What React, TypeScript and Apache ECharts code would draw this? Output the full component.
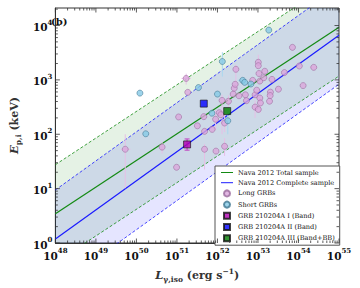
import React, { useEffect, useRef } from "react";
import * as echarts from "echarts";

const X_MIN = 1e48;
const X_MAX = 1e55;
const Y_MIN = 1;
const Y_MAX = 2.1e4;

const SERIF = "DejaVu Serif";

// Nava et al. 2012 fits: log10(Ep/keV) = norm + slope * (log10 L - 48), scatter band in dex
const fitNames = ["Nava 2012 Total sample", "Nava 2012 Complete sample"];
const fitLogNorm = [0.54, 0.075];
const fitSlope = [0.49, 0.535];
const fitScatter = [0.9, 0.9];
const fitColors = ["#138a13", "#1a1aff"];
const bandColors = ["rgba(0,128,0,0.1)", "rgba(0,0,255,0.1)"];

// Long GRBs
const longL = [
  5.3e49, 4.3e50, 9.8e50, 1.1e51, 1.69e51, 1.85e51, 3.2e51, 4.6e51, 4.8e51, 4.8e51,
  7.4e51, 9.2e51, 9.0e51, 1.11e52, 1.21e52, 1.3e52, 1.5e52, 1.5e52, 1.87e52, 2.45e52,
  2.6e52, 2.74e52, 2.85e52, 3.4e52, 4.9e52, 5.2e52, 7.4e52, 8.5e52, 9.3e52, 8.5e52,
  1.02e53, 1.02e53, 1.02e53, 1.06e53, 1.11e53, 1.11e53, 1.15e53, 1.39e53, 1.47e53, 1.93e53,
  2.03e53, 2.0e53, 2.22e53, 3.2e53, 4.5e53, 7.1e53, 1.05e54, 1.3e54, 2.38e54,
];
const longE = [
  53, 58, 24.7, 208, 1064, 590, 143, 211, 113, 53,
  123, 49, 189, 249, 229, 419, 161, 60, 405, 548,
  703, 830, 1566, 511, 532, 415, 980, 532, 647, 316,
  286, 2110, 1825, 1310, 951, 464, 377, 1096, 1442, 405,
  595, 515, 1021, 674, 1365, 3964, 1803, 786, 1701,
];
// [index, Elo, Ehi, Llo, Lhi]
const longErrBars = [
  [0, 10.2, 100, 4.1e49, 7.1e49],
  [1, 44, 72, 4.3e50, 4.3e50],
  [4, 820, 1300, 1.3e51, 2.2e51],
  [9, 22.5, 66, 4.8e51, 4.8e51],
  [12, 120, 280, 9.0e51, 9.0e51],
  [15, 100, 530, 1.3e52, 1.3e52],
  [16, 110, 230, 1.5e52, 1.5e52],
  [17, 40, 85, 1.5e52, 1.5e52],
  [18, 300, 520, 1.87e52, 1.87e52],
  [22, 790, 1900, 2.85e52, 2.85e52],
  [29, 200, 420, 8.5e52, 8.5e52],
  [31, 1700, 2900, 1.02e53, 1.02e53],
  [36, 250, 470, 1.15e53, 1.15e53],
  [48, 1701, 1701, 1.9e54, 2.9e54],
];

// Short GRBs
const shortL = [1.22e50, 1.7e50, 3.4e51, 1.32e52, 4.2e52, 4.7e52, 6.7e52, 1.0e52, 7.3e51, 1.8e52, 1.85e53];
const shortE = [571, 102, 723, 2180, 980, 901, 840, 548, 244, 177, 8230];
const shortErrBars = [
  [3, 1150, 3240, 1.32e52, 1.32e52],
  [9, 100, 250, 1.8e52, 1.8e52],
  [4, 980, 980, 3.2e52, 4.9e52],
];

// GRB 210204A
const grbNames = ["GRB 210204A I (Band)", "GRB 210204A II (Band)", "GRB 210204A III (Band+BB)"];
const grbL = [1.78e51, 4.6e51, 1.74e52];
const grbE = [65, 366, 267];
const grbElo = [51, 366, 267];
const grbEhi = [82, 366, 267];
const grbColors = ["#b000b0", "#0000ff", "#007a00"];

const fitE = (i: number, L: number, k: number) =>
  Math.pow(10, fitLogNorm[i] + fitSlope[i] * (Math.log10(L) - 48) + k * fitScatter[i]);

const supLabel = (v: number) => `{b|10}{s|${Math.round(Math.log10(v))}}`;

const LINE_ICON = "path://M0,0H24V2H0Z";
const SQUARE_ICON = "path://M0,0H10V10H0Z";

export default function App() {
  const ref = useRef<HTMLDivElement>(null);
  useEffect(() => {
    if (!ref.current) return;
    const chart = echarts.init(ref.current, null, { renderer: "svg" });

    // tick data: [x, y, major, axis(0=x,1=y)]
    const tickData: number[][] = [];
    for (let n = 48; n <= 55; n++) {
      tickData.push([Math.pow(10, n), Y_MIN, 1, 0]);
      if (n < 55) for (let k = 2; k <= 9; k++) tickData.push([k * Math.pow(10, n), Y_MIN, 0, 0]);
    }
    for (let n = 0; n <= 4; n++) {
      tickData.push([X_MIN, Math.pow(10, n), 1, 1]);
      for (let k = 2; k <= 9; k++) {
        const v = k * Math.pow(10, n);
        if (v < Y_MAX) tickData.push([X_MIN, v, 0, 1]);
      }
    }

    const errData: number[][] = [];
    longErrBars.forEach((b) => errData.push([longL[b[0]], longE[b[0]], b[1], b[2], b[3], b[4], 0, 0]));
    shortErrBars.forEach((b) => errData.push([shortL[b[0]], shortE[b[0]], b[1], b[2], b[3], b[4], 1, 0]));
    grbL.forEach((L, i) => {
      if (grbElo[i] !== grbEhi[i]) errData.push([L, grbE[i], grbElo[i], grbEhi[i], L, L, 2, 1]);
    });
    const errColors = ["#e6bfe6", "#a9d8ee", "#c040c0"];

    const lineData = (i: number, k: number) => [
      [X_MIN, fitE(i, X_MIN, k)],
      [X_MAX, fitE(i, X_MAX, k)],
    ];

    const series: any[] = [
      {
        type: "custom",
        name: "_bands",
        coordinateSystem: "cartesian2d",
        clip: true,
        z: 1,
        silent: true,
        data: [[X_MIN, Y_MIN], [X_MIN, Y_MIN]],
        encode: { x: 0, y: 1 },
        renderItem: (params: any, api: any) => {
          const i = params.dataIndex;
          const pts = [
            api.coord([X_MIN, fitE(i, X_MIN, -1)]),
            api.coord([X_MAX, fitE(i, X_MAX, -1)]),
            api.coord([X_MAX, fitE(i, X_MAX, 1)]),
            api.coord([X_MIN, fitE(i, X_MIN, 1)]),
          ];
          return { type: "polygon", shape: { points: pts }, style: { fill: bandColors[i] } };
        },
      },
    ];
    [0, 1].forEach((i) => {
      [-1, 1].forEach((k) => {
        series.push({
          type: "line",
          name: `_dash${i}${k}`,
          data: lineData(i, k),
          showSymbol: false,
          symbol: "none",
          z: 2,
          silent: true,
          lineStyle: { color: fitColors[i], width: 0.8, type: [3, 2] },
        });
      });
    });
    [0, 1].forEach((i) => {
      series.push({
        type: "line",
        name: fitNames[i],
        data: lineData(i, 0),
        showSymbol: false,
        symbol: "none",
        z: 3,
        silent: true,
        lineStyle: { color: fitColors[i], width: 1.2 },
        itemStyle: { color: fitColors[i] },
      });
    });
    series.push({
      type: "custom",
      name: "_err",
      coordinateSystem: "cartesian2d",
      clip: true,
      z: 4,
      silent: true,
      data: errData,
      encode: { x: 0, y: 1 },
      renderItem: (params: any, api: any) => {
        const L = api.value(0), E = api.value(1);
        const elo = api.value(2), ehi = api.value(3), llo = api.value(4), lhi = api.value(5);
        const kind = api.value(6), cap = api.value(7);
        const style = { stroke: errColors[kind], lineWidth: 1 };
        const children: any[] = [];
        if (elo !== ehi) {
          const a = api.coord([L, elo]);
          const b = api.coord([L, ehi]);
          children.push({ type: "line", shape: { x1: a[0], y1: a[1], x2: b[0], y2: b[1] }, style });
          if (cap) {
            children.push({ type: "line", shape: { x1: a[0] - 2.5, y1: a[1], x2: a[0] + 2.5, y2: a[1] }, style });
            children.push({ type: "line", shape: { x1: b[0] - 2.5, y1: b[1], x2: b[0] + 2.5, y2: b[1] }, style });
          }
        }
        if (llo !== lhi) {
          const a = api.coord([llo, E]);
          const b = api.coord([lhi, E]);
          children.push({ type: "line", shape: { x1: a[0], y1: a[1], x2: b[0], y2: b[1] }, style });
        }
        return { type: "group", children };
      },
    });
    series.push({
      type: "scatter",
      name: "Long GRBs",
      data: longL.map((L, i) => [L, longE[i]]),
      symbol: "circle",
      symbolSize: 6,
      z: 5,
      itemStyle: { color: "#dba6dc", borderColor: "#9a6a9c", borderWidth: 0.7 },
    });
    series.push({
      type: "scatter",
      name: "Short GRBs",
      data: shortL.map((L, i) => [L, shortE[i]]),
      symbol: "circle",
      symbolSize: 6,
      z: 5,
      itemStyle: { color: "#86c9e6", borderColor: "#3f7590", borderWidth: 0.7 },
    });
    grbNames.forEach((name, i) => {
      series.push({
        type: "scatter",
        name,
        data: [[grbL[i], grbE[i]]],
        symbol: "rect",
        symbolSize: 7,
        z: 6,
        itemStyle: { color: grbColors[i], borderColor: "#111", borderWidth: 0.8 },
      });
    });
    series.push({
      type: "custom",
      name: "_ticks",
      coordinateSystem: "cartesian2d",
      clip: false,
      z: 7,
      silent: true,
      data: tickData,
      encode: { x: 0, y: 1 },
      renderItem: (params: any, api: any) => {
        const v0 = api.value(0), v1 = api.value(1), major = api.value(2), axis = api.value(3);
        const len = major ? 4.5 : 2.5;
        const style = { stroke: "#333", lineWidth: 0.8 };
        if (axis === 0) {
          const b = api.coord([v0, Y_MIN]);
          const t = api.coord([v0, Y_MAX]);
          return {
            type: "group",
            children: [
              { type: "line", shape: { x1: b[0], y1: b[1], x2: b[0], y2: b[1] - len }, style },
              { type: "line", shape: { x1: t[0], y1: t[1], x2: t[0], y2: t[1] + len }, style },
            ],
          };
        }
        const l = api.coord([X_MIN, v1]);
        const r = api.coord([X_MAX, v1]);
        return {
          type: "group",
          children: [
            { type: "line", shape: { x1: l[0], y1: l[1], x2: l[0] + len, y2: l[1] }, style },
            { type: "line", shape: { x1: r[0], y1: r[1], x2: r[0] - len, y2: r[1] }, style },
          ],
        };
      },
    });

    const tickRich = {
      b: { fontFamily: SERIF, fontSize: 10.5, fontWeight: "bold", color: "#111", lineHeight: 14, verticalAlign: "bottom" },
      s: { fontFamily: SERIF, fontSize: 7, fontWeight: "bold", color: "#111", lineHeight: 8, verticalAlign: "top" },
    };

    chart.setOption({
      animation: false,
      grid: { left: 44, right: 21, top: 8, bottom: 40, show: true, borderColor: "#333", borderWidth: 1 },
      xAxis: {
        type: "log",
        logBase: 10,
        min: X_MIN,
        max: X_MAX,
        splitNumber: 7,
        axisLine: { show: true, lineStyle: { color: "#333" } },
        axisTick: { show: false },
        splitLine: { show: false },
        axisLabel: { formatter: supLabel, rich: tickRich, margin: 4 },
        name: "{i|L}{sub|γ,iso}{t| (erg s}{sup|−1}{t|)}",
        nameLocation: "middle",
        nameGap: 24,
        nameTextStyle: {
          rich: {
            i: { fontFamily: SERIF, fontSize: 11.5, fontStyle: "italic", fontWeight: "bold", lineHeight: 16, verticalAlign: "middle" },
            sub: { fontFamily: SERIF, fontSize: 7.5, fontWeight: "bold", lineHeight: 8, verticalAlign: "bottom" },
            t: { fontFamily: SERIF, fontSize: 11, fontWeight: "bold", lineHeight: 16, verticalAlign: "middle" },
            sup: { fontFamily: SERIF, fontSize: 7.5, fontWeight: "bold", lineHeight: 8, verticalAlign: "top" },
          },
        },
      },
      yAxis: {
        type: "log",
        logBase: 10,
        min: Y_MIN,
        max: Y_MAX,
        splitNumber: 5,
        axisLine: { show: true, lineStyle: { color: "#333" } },
        axisTick: { show: false },
        splitLine: { show: false },
        axisLabel: { formatter: supLabel, rich: tickRich, margin: 3, showMaxLabel: false },
        name: "{i|E}{sub|p,i}{t| (keV)}",
        nameLocation: "middle",
        nameGap: 24,
        nameRotate: 90,
        nameTextStyle: {
          rich: {
            i: { fontFamily: SERIF, fontSize: 11.5, fontStyle: "italic", fontWeight: "bold", lineHeight: 16, verticalAlign: "middle" },
            sub: { fontFamily: SERIF, fontSize: 7.5, fontWeight: "bold", lineHeight: 8, verticalAlign: "bottom" },
            t: { fontFamily: SERIF, fontSize: 11, fontWeight: "bold", lineHeight: 16, verticalAlign: "middle" },
          },
        },
      },
      legend: {
        data: [
          { name: fitNames[0], icon: LINE_ICON },
          { name: fitNames[1], icon: LINE_ICON },
          { name: "Long GRBs", icon: "circle" },
          { name: "Short GRBs", icon: "circle" },
          { name: grbNames[0], icon: SQUARE_ICON },
          { name: grbNames[1], icon: SQUARE_ICON },
          { name: grbNames[2], icon: SQUARE_ICON },
        ],
        orient: "vertical",
        left: 215,
        top: 166,
        itemWidth: 12,
        itemHeight: 6,
        itemGap: 3.2,
        padding: [3, 5, 3, 6],
        backgroundColor: "#fff",
        borderColor: "#555",
        borderWidth: 1,
        selectedMode: false,
        textStyle: { fontFamily: SERIF, fontSize: 6.6, color: "#111" },
      },
      graphic: [
        {
          type: "text",
          left: 51,
          top: 16,
          style: { text: "(b)", font: `bold 10px "${SERIF}"`, fill: "#111" },
        },
      ],
      series,
    });
    return () => chart.dispose();
  }, []);
  return <div ref={ref} style={{ width: 360, height: 288, position: "absolute", left: 0, top: 0 }} />;
}
